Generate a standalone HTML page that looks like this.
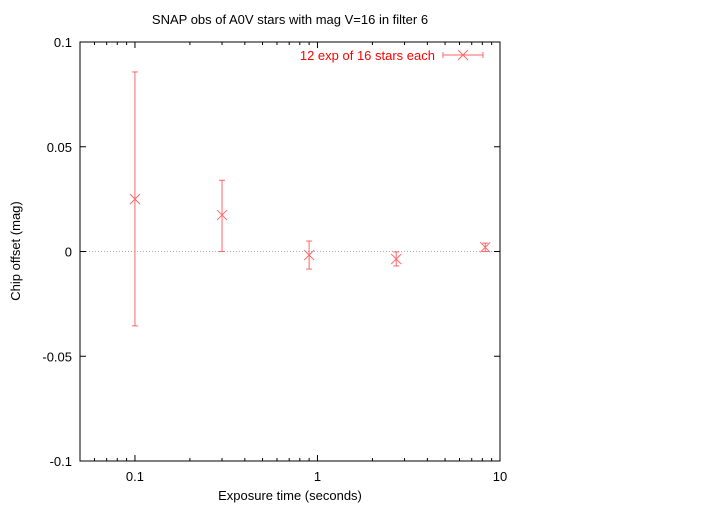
<!DOCTYPE html>
<html><head><meta charset="utf-8"><style>
body{margin:0;background:#fff}
svg text{font-family:"Liberation Sans",sans-serif;font-size:13px}
</style></head><body>
<svg width="720" height="504">
<g id="g"></g>
</svg>
<script>
const xVals=[0.1,0.3,0.9,2.7,8.3];
const yVals=[0.025,0.0174,-0.0017,-0.0036,0.002];
const yLow=[-0.0355,0.0,-0.0084,-0.0069,0.0];
const yHigh=[0.0857,0.034,0.005,-0.0002,0.004];
const yTicks=[-0.1,-0.05,0,0.05,0.1];
const yTickLabels=["-0.1","-0.05","0","0.05","0.1"];
const xTicks=[0.1,1,10];
const xTickLabels=["0.1","1","10"];
const L=80,R=500,T=42,B=461;
const xs=v=>L+(Math.log10(v)-Math.log10(0.05))/(Math.log10(10)-Math.log10(0.05))*(R-L);
const ys=v=>B-(v+0.1)/0.2*(B-T);
const g=document.getElementById('g');const NS='http://www.w3.org/2000/svg';
function el(t,a,txt){const e=document.createElementNS(NS,t);for(const k in a)e.setAttribute(k,a[k]);if(txt!==undefined)e.textContent=txt;g.appendChild(e);return e;}
let e;
e=el('line',{x1:L,x2:R,y1:ys(0),y2:ys(0),stroke:'#aaa','stroke-dasharray':'1,2'});


yTicks.forEach((v,i)=>{
 el('line',{x1:L,x2:L+6,y1:ys(v),y2:ys(v),stroke:'#000'});
 el('line',{x1:R-6,x2:R,y1:ys(v),y2:ys(v),stroke:'#000'});
 e=el('text',{x:L-8,y:ys(v)+5,'text-anchor':'end'},yTickLabels[i]);
 
 
});
for(let d=0.05;d<10.01;){
 const dec=Math.pow(10,Math.floor(Math.log10(d)+1e-9));
 const major=Math.abs(d/dec-1)<1e-6;
 const len=major?6:3;
 el('line',{x1:xs(d),x2:xs(d),y1:B,y2:B-len,stroke:'#000'});
 el('line',{x1:xs(d),x2:xs(d),y1:T,y2:T+len,stroke:'#000'});
 d=Math.round((d+dec)*1e6)/1e6;
}
xTicks.forEach((v,i)=>{
 e=el('text',{x:xs(v),y:B+20,'text-anchor':'middle'},xTickLabels[i]);
 
 
});
e=el('rect',{x:L,y:T,width:R-L,height:B-T,fill:'none',stroke:'#000'});


const red='#ff0000',lred='#ff6666';
xVals.forEach((x,i)=>{
 const px=xs(x),py=ys(yVals[i]),lo=ys(yLow[i]),hi=ys(yHigh[i]);
 const grp=document.createElementNS(NS,'g');g.appendChild(grp);
 
 
 const add=(a)=>{const l=document.createElementNS(NS,'line');for(const k in a)l.setAttribute(k,a[k]);l.setAttribute('stroke',lred);grp.appendChild(l);};
 add({x1:px,x2:px,y1:lo,y2:hi});
 add({x1:px-3,x2:px+3,y1:lo,y2:lo});
 add({x1:px-3,x2:px+3,y1:hi,y2:hi});
 add({x1:px-5,x2:px+5,y1:py-5,y2:py+5});
 add({x1:px-5,x2:px+5,y1:py+5,y2:py-5});
});
e=el('text',{x:435,y:60,'text-anchor':'end',fill:red},'12 exp of 16 stars each');


[[443,483,55,55],[443,443,52,58],[483,483,52,58],[458,468,50,60],[458,468,60,50]].forEach(c=>el('line',{x1:c[0],x2:c[1],y1:c[2],y2:c[3],stroke:lred}));
e=el('text',{x:290,y:24,'text-anchor':'middle'},'SNAP obs of A0V stars with mag V=16 in filter 6');


e=el('text',{x:290,y:500,'text-anchor':'middle'},'Exposure time (seconds)');


e=el('text',{x:20,y:251,'text-anchor':'middle',transform:'rotate(-90 20 251)'},'Chip offset (mag)');


</script>
</body></html>
